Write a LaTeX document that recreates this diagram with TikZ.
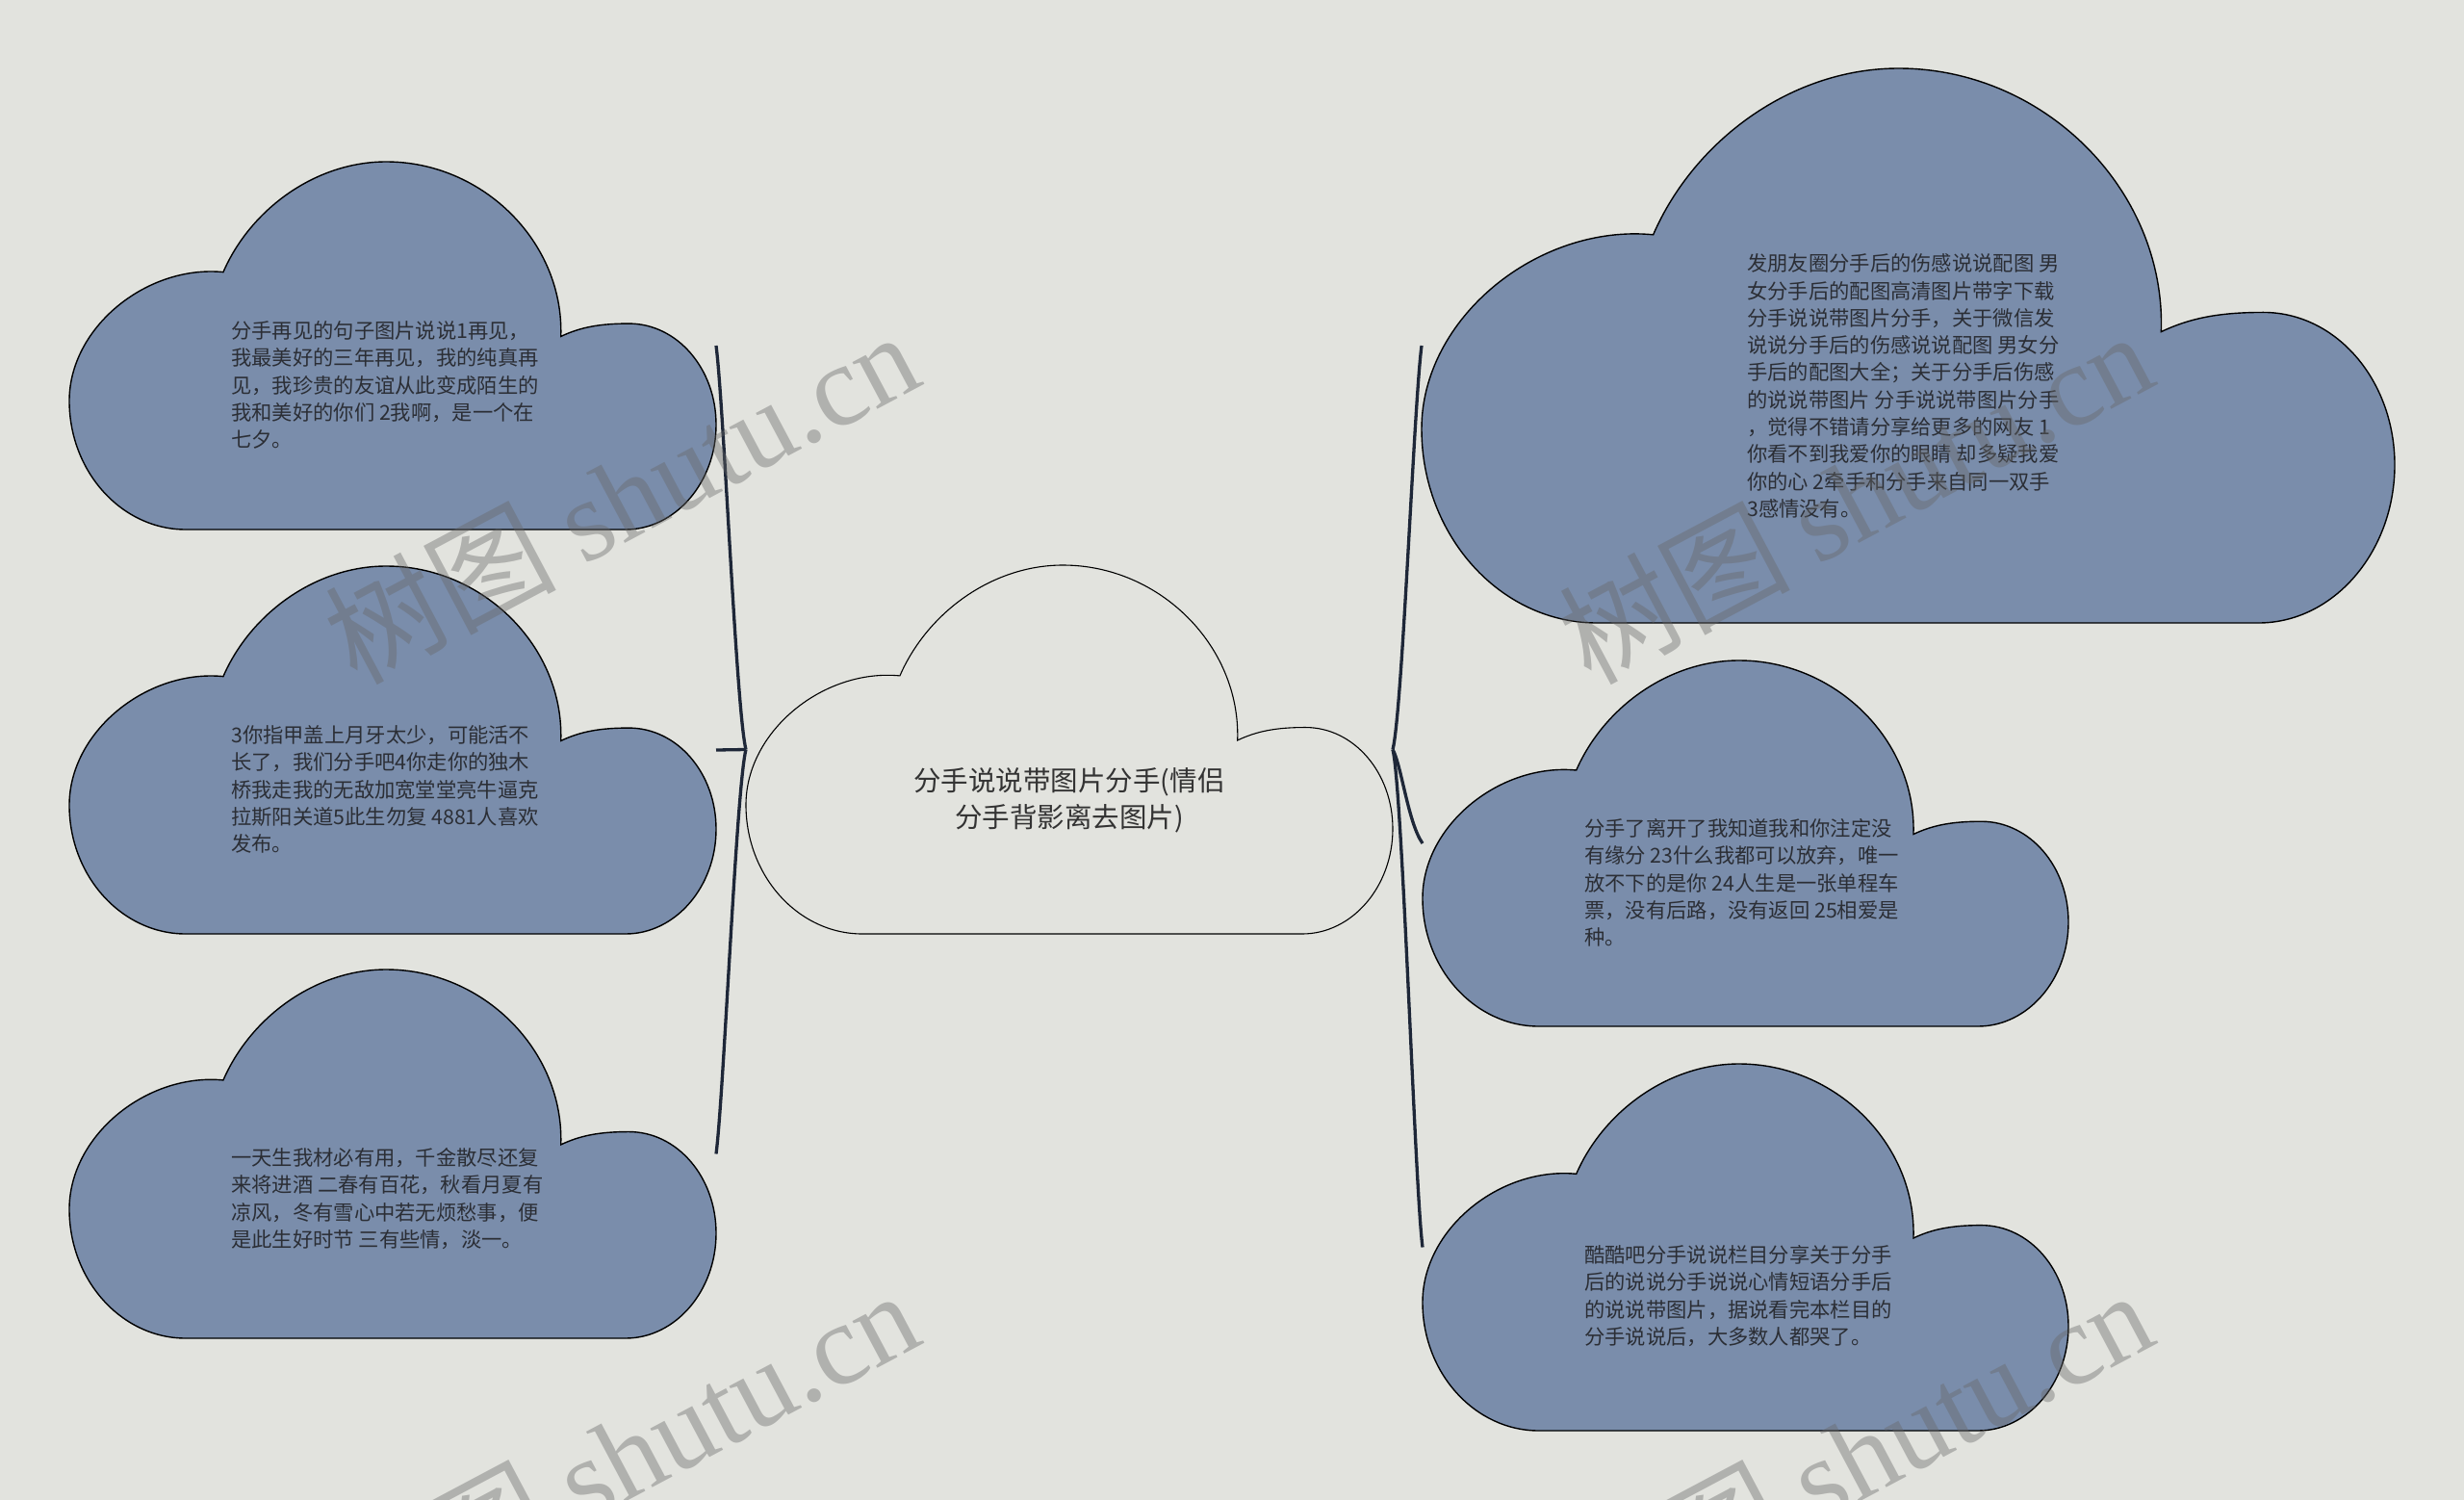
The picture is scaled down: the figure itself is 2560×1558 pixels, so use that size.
\documentclass[tikz,border=0pt]{standalone}
\usepackage{fontspec}
\setmainfont{Noto Sans CJK SC}
\newfontfamily\wmlatin{Liberation Serif}
\definecolor{pagebg}{HTML}{E2E3DE}
\definecolor{cloudfill}{HTML}{7A8DAB}
\definecolor{linkdark}{HTML}{1E2738}
\definecolor{textdark}{HTML}{2B2E35}

\begin{document}
\begin{tikzpicture}[x=1pt, y=-1pt,
cloud/.pic = {
  \path[pic actions] (0.18,1) .. controls (0.081,1) and (0,0.843) .. (0,0.65)
    .. controls (0,0.45) and (0.12,0.28) .. (0.238,0.30)
    .. controls (0.28,0.13) and (0.38,0) .. (0.49,0)
    .. controls (0.64,0) and (0.765,0.22) .. (0.76,0.475)
    .. controls (0.79,0.45) and (0.82,0.44) .. (0.865,0.44)
    .. controls (0.94,0.44) and (1,0.563) .. (1,0.715)
    .. controls (1,0.872) and (0.937,1) .. (0.86,1) -- cycle;
  \coordinate (-w) at (0,0.5);
  \coordinate (-e) at (1,0.5);
},
blue cloud/.style = {draw=black, line width=1.4pt, fill=cloudfill},
hub cloud/.style = {draw=black, line width=1.1pt, fill=pagebg},
note/.style = {anchor=west, align=left, inner sep=0pt, text=textdark,
  font=\fontsize{21.3}{28.3}\selectfont},
title/.style = {align=center, inner sep=0pt, text=black!80,
  font=\fontsize{28.5}{38}\selectfont},
link/.style = {draw=linkdark, line width=3.3pt},
wmark/.style = {rotate=28, text=black!60, opacity=0.4, inner sep=0pt,
  font=\fontsize{120}{120}\selectfont}
]
\useasboundingbox[fill=pagebg] (0,0) rectangle (2560,1558);
\clip (0,0) rectangle (2560,1558);

% clouds
\pic[hub cloud, xscale=672, yscale=383] (hub) at (775,587) {cloud};
\pic[blue cloud, xscale=672, yscale=382] (l1) at (72,168) {cloud};
\pic[blue cloud, xscale=672, yscale=382] (l2) at (72,588) {cloud};
\pic[blue cloud, xscale=672, yscale=383] (l3) at (72,1007) {cloud};
\pic[blue cloud, xscale=1011, yscale=576] (r1) at (1477,71) {cloud};
\pic[blue cloud, xscale=671, yscale=380] (r2) at (1478,686) {cloud};
\pic[blue cloud, xscale=671, yscale=381] (r3) at (1478,1105) {cloud};

% texts
\node[title] (t-hub) at (1111,831) {分手说说带图片分手(情侣\\分手背影离去图片)};
\node[note] (t-l1) at (240,400) {分手再见的句子图片说说1再见，\\我最美好的三年再见，我的纯真再\\见，我珍贵的友谊从此变成陌生的\\我和美好的你们 2我啊，是一个在\\七夕。};
\node[note] (t-l2) at (240,820) {3你指甲盖上月牙太少，可能活不\\长了，我们分手吧4你走你的独木\\桥我走我的无敌加宽堂堂亮牛逼克\\拉斯阳关道5此生勿复 4881人喜欢\\发布。};
\node[note] (t-l3) at (240,1245) {一天生我材必有用，千金散尽还复\\来将进酒 二春有百花，秋看月夏有\\凉风，冬有雪心中若无烦愁事，便\\是此生好时节 三有些情，淡一。};
\node[note] (t-r1) at (1815,401) {发朋友圈分手后的伤感说说配图 男\\女分手后的配图高清图片带字下载\\分手说说带图片分手，关于微信发\\说说分手后的伤感说说配图 男女分\\手后的配图大全；关于分手后伤感\\的说说带图片 分手说说带图片分手\\，觉得不错请分享给更多的网友 1\\你看不到我爱你的眼睛 却多疑我爱\\你的心 2牵手和分手来自同一双手\\3感情没有。};
\node[note] (t-r2) at (1646,917) {分手了离开了我知道我和你注定没\\有缘分 23什么我都可以放弃，唯一\\放不下的是你 24人生是一张单程车\\票，没有后路，没有返回 25相爱是\\种。};
\node[note] (t-r3) at (1646,1346) {酷酷吧分手说说栏目分享关于分手\\后的说说分手说说心情短语分手后\\的说说带图片，据说看完本栏目的\\分手说说后，大多数人都哭了。};

% links
\draw[link] (hub-w) .. controls +(-10,-39) and +(8,61) .. (l1-e);
\draw[link] (hub-w) -- (l2-e);
\draw[link] (hub-w) .. controls +(-10,39) and +(8,-61) .. (l3-e);
\draw[link] (hub-e) .. controls +(10,-39) and +(-8,61) .. (r1-w);
\draw[link] (hub-e) .. controls +(9,16) and +(-15,-21) .. (r2-w);
\draw[link] (hub-e) .. controls +(10,39) and +(-8,-61) .. (r3-w);

% watermarks
\node[wmark] (wm1) at (645,515) {树图 {\wmlatin shutu.cn}};
\node[wmark] (wm2) at (1927,515) {树图 {\wmlatin shutu.cn}};
\node[wmark] (wm3) at (645,1511) {树图 {\wmlatin shutu.cn}};
\node[wmark] (wm4) at (1927,1511) {树图 {\wmlatin shutu.cn}};
\end{tikzpicture}
\end{document}
